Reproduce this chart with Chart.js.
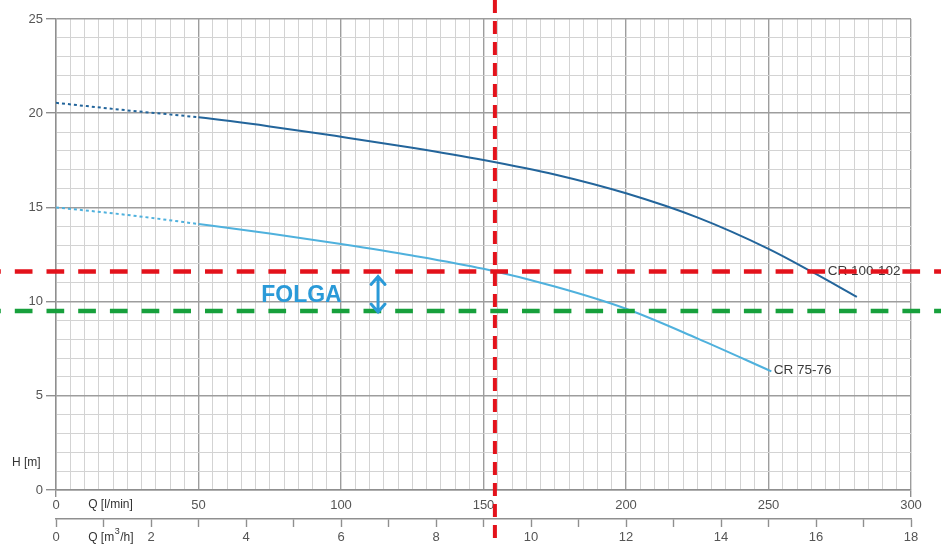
<!DOCTYPE html>
<html>
<head>
<meta charset="utf-8">
<script src="https://cdn.jsdelivr.net/npm/chart.js@4.4.1/dist/chart.umd.min.js"></script>
<style>
  html, body { margin: 0; padding: 0; background: #fff; }
  #wrap { width: 941px; height: 545px; position: relative; }
</style>
</head>
<body>
<div id="wrap"><canvas id="pump-chart"></canvas></div>
<script>
// flow Q [l/min] and head H [m]
const cr100Q = [0, 25, 50, 75, 100, 125, 150, 175, 200, 225, 250, 265, 281];
const cr100H = [20.55, 20.15, 19.78, 19.3, 18.75, 18.17, 17.52, 16.75, 15.75, 14.47, 12.8, 11.6, 10.25];
const cr75Q = [0, 25, 50, 75, 100, 125, 150, 175, 200, 225, 251];
const cr75H = [15.0, 14.6, 14.12, 13.62, 13.06, 12.45, 11.74, 10.8, 9.62, 8.05, 6.3];

const dottedUpTo = 50; // curves are dotted below this flow
const dutyFlow = 154;   // red vertical line, l/min
const dutyHead = 11.6;  // red horizontal line, m
const folgaHead = 9.5;  // green horizontal line, m

const curveLabels = ["CR 100-102", "CR 75-76"];

const FONT = "'Liberation Sans', Arial, sans-serif";

const toPoints = (qs, hs) => qs.map((q, i) => ({ x: q, y: hs[i] }));

const dottedSegment = {
  borderDash: (ctx) => (ctx.p1.parsed.x <= dottedUpTo ? [3, 3] : undefined),
};

const overlayPlugin = {
  id: "overlay",
  afterDatasetsDraw(chart) {
    const { ctx, width, height } = chart;
    const x = chart.scales.x;
    const y = chart.scales.y;

    ctx.save();
    ctx.textAlign = "left";
    ctx.textBaseline = "middle";

    // curve names (the dashed lines go over them)
    ctx.fillStyle = "#3a3a3a";
    ctx.font = "13.5px " + FONT;
    ctx.fillText(curveLabels[0], x.getPixelForValue(270.8), y.getPixelForValue(11.62));
    ctx.fillText(curveLabels[1], x.getPixelForValue(251.8), y.getPixelForValue(6.35));

    // horizontal dashed lines run across the whole picture
    const hLine = (value, color) => {
      const py = y.getPixelForValue(value);
      ctx.beginPath();
      ctx.setLineDash([17.7, 14]);
      ctx.lineWidth = 4.5;
      ctx.strokeStyle = color;
      ctx.moveTo(-16.9, py);
      ctx.lineTo(width, py);
      ctx.stroke();
    };
    hLine(folgaHead, "#17a03c");
    hLine(dutyHead, "#e3121b");

    // vertical dashed line
    const px = x.getPixelForValue(dutyFlow);
    ctx.beginPath();
    ctx.setLineDash([13, 8]);
    ctx.lineWidth = 4;
    ctx.strokeStyle = "#e3121b";
    ctx.moveTo(px, 0);
    ctx.lineTo(px, height);
    ctx.stroke();
    ctx.setLineDash([]);

    // double arrow between the two heads
    const ax = x.getPixelForValue(113);
    const aTop = y.getPixelForValue(dutyHead) + 5;
    const aBot = y.getPixelForValue(folgaHead) + 1;
    ctx.strokeStyle = "#2a9ad8";
    ctx.lineWidth = 3;
    ctx.lineCap = "round";
    ctx.beginPath();
    ctx.moveTo(ax, aTop);
    ctx.lineTo(ax, aBot);
    ctx.moveTo(ax - 7, aTop + 8);
    ctx.lineTo(ax, aTop);
    ctx.lineTo(ax + 7, aTop + 8);
    ctx.moveTo(ax - 7, aBot - 8);
    ctx.lineTo(ax, aBot);
    ctx.lineTo(ax + 7, aBot - 8);
    ctx.stroke();

    // FOLGA
    ctx.fillStyle = "#2a9ad8";
    ctx.font = "bold 23px " + FONT;
    ctx.fillText("FOLGA", x.getPixelForValue(72), y.getPixelForValue(10.3));

    // axis titles
    ctx.fillStyle = "#333";
    ctx.font = "12px " + FONT;
    ctx.fillText("H [m]", 12, y.getPixelForValue(1.43));
    ctx.fillText("Q [l/min]", x.getPixelForValue(11.3), 505);
    const q2x = x.getPixelForValue(11.3);
    ctx.fillText("Q [m", q2x, 538);
    const w1 = ctx.measureText("Q [m").width;
    ctx.font = "9px " + FONT;
    ctx.fillText("3", q2x + w1 + 0.5, 532);
    const w2 = ctx.measureText("3").width;
    ctx.font = "12px " + FONT;
    ctx.fillText("/h]", q2x + w1 + w2 + 1, 538);

    ctx.restore();
  },
};

const gridColor = (major) => (ctx) =>
  ctx.tick && ctx.tick.value % major === 0 ? "#9d9d9d" : "#d3d3d3";
const gridWidth = (major) => (ctx) =>
  ctx.tick && ctx.tick.value % major === 0 ? 1.4 : 1;

const config = {
  type: "line",
  data: {
    datasets: [
      {
        label: curveLabels[0],
        data: toPoints(cr100Q, cr100H),
        borderColor: "#23659b",
        borderWidth: 2,
        pointRadius: 0,
        cubicInterpolationMode: "monotone",
        segment: dottedSegment,
      },
      {
        label: curveLabels[1],
        data: toPoints(cr75Q, cr75H),
        borderColor: "#4fb1dd",
        borderWidth: 2,
        pointRadius: 0,
        cubicInterpolationMode: "monotone",
        segment: dottedSegment,
      },
    ],
  },
  options: {
    responsive: true,
    maintainAspectRatio: false,
    animation: false,
    layout: { padding: { top: 19, right: 30, left: 0, bottom: 0 } },
    plugins: {
      legend: { display: false },
      tooltip: { enabled: false },
    },
    scales: {
      x: {
        type: "linear",
        position: "bottom",
        weight: 0,
        min: 0,
        max: 300,
        afterFit: (scale) => { scale.height = 29; },
        border: { color: "#8f8f8f", width: 1.4 },
        grid: {
          color: gridColor(50),
          lineWidth: gridWidth(50),
          tickLength: 7,
          tickColor: (ctx) =>
            ctx.tick && (ctx.tick.value === 0 || ctx.tick.value === 300) ? "#8f8f8f" : "rgba(0,0,0,0)",
        },
        ticks: {
          stepSize: 5,
          autoSkip: false,
          maxRotation: 0,
          padding: 1,
          color: "#555",
          font: { family: FONT, size: 13 },
          callback: (v) => (v % 50 === 0 ? v : ""),
        },
      },
      x2: {
        type: "linear",
        axis: "x",
        position: "bottom",
        weight: 1,
        min: 0,
        max: 18,
        afterFit: (scale) => { scale.height = 26; },
        border: { color: "#8f8f8f", width: 1.4 },
        grid: {
          drawOnChartArea: false,
          tickLength: 8,
          tickColor: "#8f8f8f",
          tickWidth: 1.4,
        },
        ticks: {
          stepSize: 1,
          autoSkip: false,
          maxRotation: 0,
          padding: 3,
          color: "#555",
          font: { family: FONT, size: 13 },
          callback: (v) => (v % 2 === 0 ? v : ""),
        },
      },
      y: {
        type: "linear",
        min: 0,
        max: 25,
        afterFit: (scale) => { scale.width = 56; },
        border: { color: "#8f8f8f", width: 1.4 },
        grid: {
          color: gridColor(5),
          lineWidth: gridWidth(5),
          tickLength: 10,
          tickColor: (ctx) =>
            ctx.tick && ctx.tick.value % 5 === 0 ? "#8f8f8f" : "rgba(0,0,0,0)",
        },
        ticks: {
          stepSize: 1,
          autoSkip: false,
          padding: 3,
          color: "#555",
          font: { family: FONT, size: 13 },
          callback: (v) => (v % 5 === 0 ? v : ""),
        },
      },
    },
  },
  plugins: [overlayPlugin],
};

document.addEventListener("DOMContentLoaded", () => {
  new Chart(document.querySelector("#pump-chart"), config);
});
</script>
</body>
</html>
